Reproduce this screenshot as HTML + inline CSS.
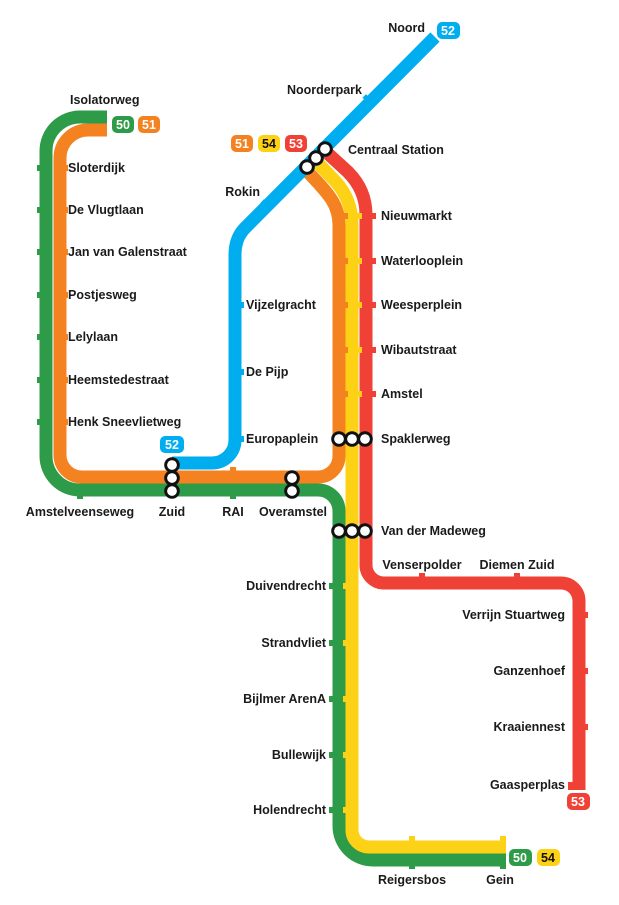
<!DOCTYPE html>
<html><head><meta charset="utf-8"><style>
html,body{margin:0;padding:0;background:#fff;}
svg text{font-family:"Liberation Sans",sans-serif;font-weight:bold;font-size:12.5px;fill:#1a1a1a;}
.b{fill:#fff;font-size:12.5px;text-anchor:middle;}
</style></head><body>
<svg width="619" height="900" viewBox="0 0 619 900" xmlns="http://www.w3.org/2000/svg">
<g fill="none" stroke-width="13">
<path stroke="#2e9b48" d="M107,117 H80 A34,34 0 0 0 46,151 V456 A34,34 0 0 0 80,490 H318 A21,21 0 0 1 339,511 V826 A34,34 0 0 0 373,860 H506"/>
<path stroke="#f58220" d="M107,130 H88 A28,28 0 0 0 60,158 V455 A22,22 0 0 0 82,477 H318 A21,21 0 0 0 339,456 V225 C339,205 330,195 306,170"/>
<path stroke="#fdd116" d="M315,160 L336,182 Q352,200 352,225 V830 A17,17 0 0 0 369,847 H506"/>
<path stroke="#ef4136" d="M324,150 L348,172 Q366,190 366,215 V565 A18,18 0 0 0 384,583 H561 A18,18 0 0 1 579,601 V790"/>
<path stroke="#00aeef" d="M435,37 L245,228 Q235,238 235,255 V440 A23,23 0 0 1 212,463 H172"/>
</g>
<g fill="#f58220">
<rect x="64" y="165" width="4" height="6"/><rect x="64" y="207" width="4" height="6"/><rect x="64" y="249" width="4" height="6"/><rect x="64" y="292" width="4" height="6"/><rect x="64" y="334" width="4" height="6"/><rect x="64" y="377" width="4" height="6"/><rect x="64" y="419" width="4" height="6"/>
<rect x="343" y="213" width="5" height="6"/><rect x="343" y="258" width="5" height="6"/><rect x="343" y="302" width="5" height="6"/><rect x="343" y="347" width="5" height="6"/><rect x="343" y="391" width="5" height="6"/>
<rect x="230" y="467" width="6" height="5"/>
</g>
<g fill="#2e9b48">
<rect x="37" y="165" width="5" height="6"/><rect x="37" y="207" width="5" height="6"/><rect x="37" y="249" width="5" height="6"/><rect x="37" y="292" width="5" height="6"/><rect x="37" y="334" width="5" height="6"/><rect x="37" y="377" width="5" height="6"/><rect x="37" y="419" width="5" height="6"/>
<rect x="77" y="494" width="6" height="5"/><rect x="230" y="494" width="6" height="5"/>
<rect x="329" y="583" width="5" height="6"/><rect x="329" y="640" width="5" height="6"/><rect x="329" y="696" width="5" height="6"/><rect x="329" y="752" width="5" height="6"/><rect x="329" y="807" width="5" height="6"/>
<rect x="409" y="864" width="6" height="5"/><rect x="500" y="864" width="6" height="5"/>
</g>
<g fill="#fdd116">
<rect x="357" y="213" width="5" height="6"/><rect x="357" y="258" width="5" height="6"/><rect x="357" y="302" width="5" height="6"/><rect x="357" y="347" width="5" height="6"/><rect x="357" y="391" width="5" height="6"/>
<rect x="343" y="583" width="5" height="6"/><rect x="343" y="640" width="5" height="6"/><rect x="343" y="696" width="5" height="6"/><rect x="343" y="752" width="5" height="6"/><rect x="343" y="807" width="5" height="6"/>
<rect x="409" y="836" width="6" height="5"/><rect x="500" y="836" width="6" height="5"/>
</g>
<g fill="#ef4136">
<rect x="371" y="213" width="5" height="6"/><rect x="371" y="258" width="5" height="6"/><rect x="371" y="302" width="5" height="6"/><rect x="371" y="347" width="5" height="6"/><rect x="371" y="391" width="5" height="6"/>
<rect x="419" y="573" width="6" height="5"/><rect x="514" y="573" width="6" height="5"/>
<rect x="584" y="612" width="4" height="6"/><rect x="584" y="668" width="4" height="6"/><rect x="584" y="724" width="4" height="6"/>
<rect x="568" y="782" width="17" height="8"/>
</g>
<g fill="#00aeef">
<rect x="240" y="302" width="4" height="6"/><rect x="240" y="369" width="4" height="6"/><rect x="240" y="436" width="4" height="6"/>
<rect x="262" y="200" width="5" height="5" transform="rotate(45 264 202)"/>
<rect x="364" y="95" width="5" height="5" transform="rotate(45 366 97)"/>
</g>
<g fill="#fff" stroke="#111" stroke-width="3">
<circle cx="307" cy="167" r="6.3"/><circle cx="316" cy="158" r="6.3"/><circle cx="325" cy="149" r="6.3"/>
<circle cx="172" cy="465" r="6.3"/><circle cx="172" cy="478" r="6.3"/><circle cx="172" cy="491" r="6.3"/>
<circle cx="292" cy="478" r="6.3"/><circle cx="292" cy="491" r="6.3"/>
<circle cx="339" cy="439" r="6.3"/><circle cx="352" cy="439" r="6.3"/><circle cx="365" cy="439" r="6.3"/>
<circle cx="339" cy="531" r="6.3"/><circle cx="352" cy="531" r="6.3"/><circle cx="365" cy="531" r="6.3"/>
</g>
<g fill="#fff" stroke="none">
<circle cx="307" cy="167" r="4.8"/><circle cx="316" cy="158" r="4.8"/><circle cx="325" cy="149" r="4.8"/>
<circle cx="172" cy="465" r="4.8"/><circle cx="172" cy="478" r="4.8"/><circle cx="172" cy="491" r="4.8"/>
<circle cx="292" cy="478" r="4.8"/><circle cx="292" cy="491" r="4.8"/>
<circle cx="339" cy="439" r="4.8"/><circle cx="352" cy="439" r="4.8"/><circle cx="365" cy="439" r="4.8"/>
<circle cx="339" cy="531" r="4.8"/><circle cx="352" cy="531" r="4.8"/><circle cx="365" cy="531" r="4.8"/>
</g>
<rect x="112" y="116" width="22" height="17" rx="5" fill="#2e9b48"/><text class="b" x="123" y="129">50</text>
<rect x="138" y="116" width="22" height="17" rx="5" fill="#f58220"/><text class="b" x="149" y="129">51</text>
<rect x="231" y="135" width="22" height="17" rx="5" fill="#f58220"/><text class="b" x="242" y="148">51</text>
<rect x="258" y="135" width="22" height="17" rx="5" fill="#fdd116"/><text class="b" x="269" y="148" style="fill:#111">54</text>
<rect x="285" y="135" width="22" height="17" rx="5" fill="#ef4136"/><text class="b" x="296" y="148">53</text>
<rect x="437" y="22" width="23" height="17" rx="5" fill="#00aeef"/><text class="b" x="448" y="35">52</text>
<rect x="160" y="436" width="24" height="17" rx="5" fill="#00aeef"/><text class="b" x="172" y="449">52</text>
<rect x="509" y="849" width="23" height="17" rx="5" fill="#2e9b48"/><text class="b" x="520" y="862">50</text>
<rect x="537" y="849" width="23" height="17" rx="5" fill="#fdd116"/><text class="b" x="548" y="862" style="fill:#111">54</text>
<rect x="567" y="793" width="23" height="17" rx="5" fill="#ef4136"/><text class="b" x="578" y="806">53</text>
<text x="70" y="104">Isolatorweg</text>
<text x="68" y="172">Sloterdijk</text>
<text x="68" y="214">De Vlugtlaan</text>
<text x="68" y="256">Jan van Galenstraat</text>
<text x="68" y="299">Postjesweg</text>
<text x="68" y="341">Lelylaan</text>
<text x="68" y="384">Heemstedestraat</text>
<text x="68" y="426">Henk Sneevlietweg</text>
<text x="425" y="32" text-anchor="end">Noord</text>
<text x="362" y="94" text-anchor="end">Noorderpark</text>
<text x="348" y="154">Centraal Station</text>
<text x="260" y="196" text-anchor="end">Rokin</text>
<text x="246" y="309">Vijzelgracht</text>
<text x="246" y="376">De Pijp</text>
<text x="246" y="443">Europaplein</text>
<text x="381" y="220">Nieuwmarkt</text>
<text x="381" y="265">Waterlooplein</text>
<text x="381" y="309">Weesperplein</text>
<text x="381" y="354">Wibautstraat</text>
<text x="381" y="398">Amstel</text>
<text x="381" y="443">Spaklerweg</text>
<text x="381" y="535">Van der Madeweg</text>
<text x="80" y="516" text-anchor="middle">Amstelveenseweg</text>
<text x="172" y="516" text-anchor="middle">Zuid</text>
<text x="233" y="516" text-anchor="middle">RAI</text>
<text x="293" y="516" text-anchor="middle">Overamstel</text>
<text x="326" y="590" text-anchor="end">Duivendrecht</text>
<text x="326" y="647" text-anchor="end">Strandvliet</text>
<text x="326" y="703" text-anchor="end">Bijlmer ArenA</text>
<text x="326" y="759" text-anchor="end">Bullewijk</text>
<text x="326" y="814" text-anchor="end">Holendrecht</text>
<text x="422" y="569" text-anchor="middle">Venserpolder</text>
<text x="517" y="569" text-anchor="middle">Diemen Zuid</text>
<text x="565" y="619" text-anchor="end">Verrijn Stuartweg</text>
<text x="565" y="675" text-anchor="end">Ganzenhoef</text>
<text x="565" y="731" text-anchor="end">Kraaiennest</text>
<text x="565" y="789" text-anchor="end">Gaasperplas</text>
<text x="412" y="884" text-anchor="middle">Reigersbos</text>
<text x="500" y="884" text-anchor="middle">Gein</text>
</svg>
</body></html>
